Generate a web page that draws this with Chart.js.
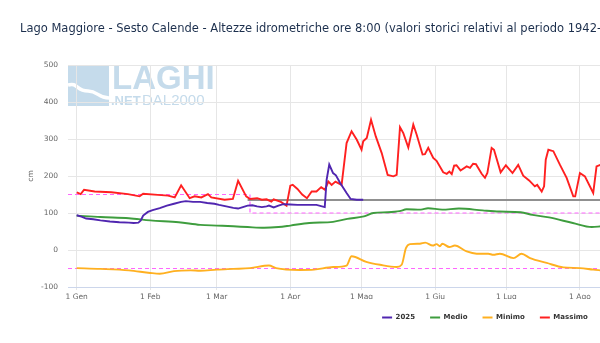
<!DOCTYPE html>
<html>
<head>
<meta charset="utf-8">
<script src="https://cdn.jsdelivr.net/npm/chart.js@4/dist/chart.umd.min.js"></script>
<style>
html,body{margin:0;padding:0;overflow:hidden;background:#fff;width:600px;height:343px}
canvas{display:block}
</style>
</head>
<body>
<canvas id="c" width="970" height="343"></canvas>
<script>
// ---- categories / ticks ----
const monthStarts = [0,31,59,90,120,151,181,212,243,273,304,334];
const monthLabels = ['1 Gen','1 Feb','1 Mar','1 Apr','1 Mag','1 Giu','1 Lug','1 Ago','1 Set','1 Ott','1 Nov','1 Dic'];
const yTicks = [-100,0,100,200,300,400,500];

// ---- series: 2025 ----
const days2025 = [0,2,4,7,10,14,18,22,24,26,27,28,30,32,35,38,41,44,46,49,52,55,58,60,63,66,68,70,72,74,76,78,80,81,83,85,87,90,93,97,101,104.5,105.3,106.4,108,109.2,111,113.7,115.4,118,120.7];
const vals2025 = [94,90,85,83,80,77,75,74,73,74,80,93,103,108,113,120,125,130,132,130,130,127,125,122,118,114,112,116,120,121,118,116,118,120,115,120,124,123,122,122,122,116,190,231,208,202,181,154,138,136,136];

// ---- series: Medio ----
const daysMedio = [0,10,22,31,43,52,59,66,72,79,85,90,98,108,114,121,125,131,136,139,145,148,154,161,171,178,187,192,199,209,217,221];
const valsMedio = [93,89,86,80,75,68,66,64,62,60,62,66,73,76,84,91,100,102,105,110,109,113,109,112,107,104,102,95,88,73,62,64];

// ---- series: Minimo ----
const daysMinimo = [0,10,22,31,35,41,48,52,59,66,73,81,84,94,100,108,113.7,115.8,122,127.8,134.8,136.9,138.7,140.4,144.6,146.8,150,151.6,153,154,157,159.3,164.3,168.5,173.4,175.5,178.3,184,187.4,191,198,205,212,217.6,221];
const valsMinimo = [-49,-51,-55,-62,-64,-57,-55,-56,-53,-51,-49,-42,-49,-54,-53,-46,-42,-17,-32,-40,-46,-40,5,16,17,20,12,16,10,17,8,12,-4,-10,-10,-13,-10,-22,-10,-22,-35,-47,-49,-53,-55];

// ---- series: Massimo ----
const daysMassimo = [0,1.7,3.1,7.6,14.6,21.6,26.5,28,34.2,38.5,41.3,44,47.6,49.7,52.5,55.3,56.7,62.3,65.8,68,71.4,73,76,78,80,82,83,86,88.4,90,91,93,95,97,99,101,103,104.6,106,107.4,109,111.6,113.7,115.8,118,120,120.7,122.2,124,126,128.5,131,133.4,134.8,136.2,137.6,139.7,141.8,143.2,145.7,146.7,148.1,150.2,151.6,154.4,155.9,157,158,159,160,161.7,164.3,165.7,167,168.2,170.6,172,173,174.8,175.8,178.6,180.8,183.6,186,188.1,190.6,193,194,195.9,196.9,197.6,198.7,200.8,203.6,206.4,209.2,210,212,214.1,217.6,219,220.6];
const valsMassimo = [156,151,163,158,156,151,145,152,149,147,142,175,140,145,142,151,142,136,138,187,145,138,140,136,137,131,137,130,120,174,176,165,150,140,158,158,170,163,185,176,185,176,289,321,298,271,294,303,352,307,262,203,199,203,332,316,277,339,312,258,259,276,249,241,210,206,212,205,228,229,215,226,222,233,232,206,195,208,276,271,210,229,208,230,201,188,172,176,158,172,244,271,267,230,195,145,145,208,199,154,226,230];

// ---- reference levels ----
const X_MIN = -3.66, X_MAX = 367.9;
const refGrayDays = [72, X_MAX];
const refGrayVals = [135, 135];
const refUpperDays = [X_MIN, 73, 73, X_MAX];
const refUpperVals = [150, 150, 100, 100];
const refLowerDays = [X_MIN, X_MAX];
const refLowerVals = [-50, -50];

const TITLE = 'Lago Maggiore - Sesto Calende - Altezze idrometriche ore 8:00 (valori storici relativi al periodo 1942-2024)';

const pts = (xs, ys) => xs.map((x, i) => ({x: x, y: ys[i]}));
const FONT = 'DejaVu Sans';

const logoPlugin = {
  id: 'logo',
  beforeDraw(chart) {
    const {ctx, chartArea: a} = chart;
    const x0 = a.left, y0 = a.top;
    const c = '#c5dbeb';
    ctx.save();
    ctx.fillStyle = c;
    ctx.fillRect(x0, y0, 41, 41);
    ctx.strokeStyle = '#ffffff';
    ctx.lineWidth = 3.5;
    ctx.beginPath();
    ctx.moveTo(x0, y0 + 20);
    ctx.bezierCurveTo(x0 + 10, y0 + 17, x0 + 8, y0 + 26, x0 + 20, y0 + 26);
    ctx.bezierCurveTo(x0 + 30, y0 + 26, x0 + 30, y0 + 33, x0 + 41, y0 + 33);
    ctx.stroke();
    ctx.fillStyle = c;
    ctx.textBaseline = 'alphabetic';
    ctx.font = 'bold 33px "Liberation Sans"';
    ctx.fillText('LAGHI', x0 + 44, y0 + 24);
    ctx.font = 'bold 13px "Liberation Sans"';
    ctx.fillText('.NET', x0 + 43, y0 + 40);
    ctx.font = '15px "Liberation Sans"';
    ctx.fillText('DAL2000', x0 + 74, y0 + 40);
    ctx.restore();
  }
};

const lineDs = (label, xs, ys, color, extra) => Object.assign({
  label: label, data: pts(xs, ys), borderColor: color, backgroundColor: color,
  borderWidth: 1.9, pointRadius: 0, pointHoverRadius: 0, fill: false, tension: 0
}, extra || {});

new Chart(document.getElementById('c'), {
  type: 'line',
  data: {
    datasets: [
      lineDs('2025', days2025, vals2025, '#5026b0'),
      lineDs('Medio', daysMedio, valsMedio, '#3e9d3e', {cubicInterpolationMode: 'monotone'}),
      lineDs('Minimo', daysMinimo, valsMinimo, '#ffb020', {cubicInterpolationMode: 'monotone'}),
      lineDs('Massimo', daysMassimo, valsMassimo, '#ff2020'),
      lineDs('Limite', refGrayDays, refGrayVals, '#909090', {borderWidth: 2}),
      lineDs('Soglia sup', refUpperDays, refUpperVals, '#ff66ff', {borderWidth: 1.2, borderDash: [4, 3]}),
      lineDs('Soglia inf', refLowerDays, refLowerVals, '#ff66ff', {borderWidth: 1.2, borderDash: [4, 3]})
    ]
  },
  plugins: [logoPlugin],
  options: {
    responsive: false,
    animation: false,
    devicePixelRatio: 1,
    events: [],
    layout: {padding: {left: 20, right: 20, top: 0, bottom: 12}},
    plugins: {
      tooltip: {enabled: false},
      title: {
        display: true, text: TITLE, align: 'start', color: '#1c2f4d',
        font: {family: FONT, size: 11.5, weight: 'normal'},
        padding: {top: 22.1, bottom: 29.1}
      },
      legend: {
        position: 'bottom',
        labels: {
          color: '#333333',
          font: {family: FONT, size: 7, weight: 'bold'},
          boxWidth: 10, boxHeight: 2, padding: 15,
          generateLabels: (chart) => Chart.defaults.plugins.legend.labels.generateLabels(chart)
            .filter(i => i.datasetIndex < 4)
            .map(i => Object.assign(i, {lineWidth: 0, fillStyle: i.strokeStyle, lineDash: []}))
        }
      }
    },
    scales: {
      x: {
        type: 'linear', min: X_MIN, max: X_MAX,
        afterBuildTicks: (s) => { s.ticks = monthStarts.map(v => ({value: v})); },
        afterFit: (s) => { s.height = 12; },
        ticks: {
          autoSkip: false, maxRotation: 0, padding: 2.2, color: '#666666',
          font: {family: FONT, size: 7.5},
          callback: (v) => monthLabels[monthStarts.indexOf(v)]
        },
        grid: {color: '#e6e6e6', lineWidth: 1, tickLength: 3, drawTicks: true},
        border: {display: true, color: '#ccd6eb', width: 1}
      },
      y: {
        min: -100, max: 500,
        afterBuildTicks: (s) => { s.ticks = yTicks.map(v => ({value: v})); },
        afterFit: (s) => { s.width = 48; },
        ticks: {padding: 10, color: '#666666', font: {family: FONT, size: 7.5}},
        grid: {color: '#e6e6e6', lineWidth: 1, drawTicks: false},
        border: {display: false},
        title: {display: true, text: 'cm', color: '#666666', font: {family: FONT, size: 7.5}, padding: {top: 6.5, bottom: 0}}
      }
    }
  }
});
</script>
</body>
</html>
